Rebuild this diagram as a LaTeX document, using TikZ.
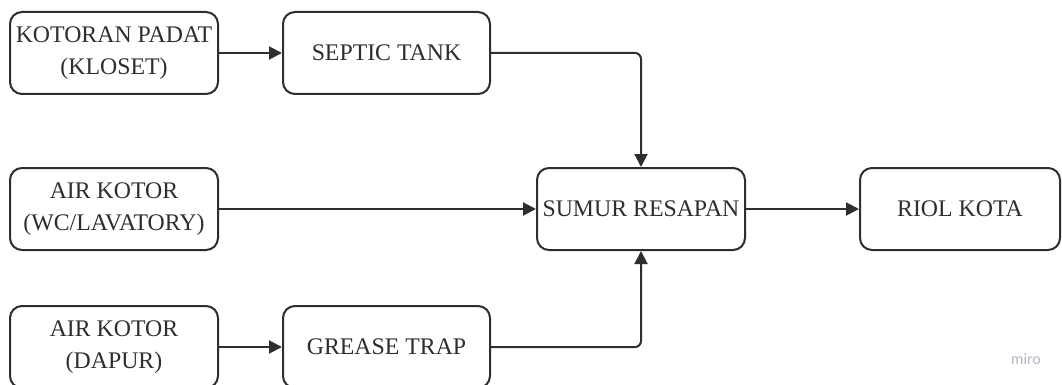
\documentclass[tikz,border=0pt]{standalone}
\usepackage{fontspec}
\setmainfont{Liberation Serif}
\newfontfamily\markfont{Lato}
\usetikzlibrary{arrows.meta}
\definecolor{ink}{HTML}{2E2E2E}
\definecolor{markgray}{HTML}{B4B4C4}
\tikzset{
  flowbox/.style={draw=ink, line width=2pt, rounded corners=12pt,
    minimum width=208pt, minimum height=82pt, inner sep=0pt,
    align=center, text=ink, font=\fontsize{23.8}{32}\selectfont},
  flow/.style={draw=ink, line width=2pt,
    -{Triangle[length=13pt,width=13pt]}, rounded corners=6pt}
}
\begin{document}
\begin{tikzpicture}[x=1pt,y=-1pt]
  \clip (0,0) rectangle (1062,385);
  \fill[white] (0,0) rectangle (1062,385);

  % sources
  \node[flowbox] (kloset) at (114,53) {KOTORAN PADAT\\(KLOSET)};
  \node[flowbox] (wc) at (114,209) {AIR KOTOR\\(WC/LAVATORY)};
  \node[flowbox] (dapur) at (114,347) {AIR KOTOR\\(DAPUR)};

  % treatment
  \node[flowbox, minimum width=207pt] (septic) at (386.5,53) {SEPTIC TANK};
  \node[flowbox, minimum width=207pt] (grease) at (386.5,347) {GREASE TRAP};

  % collection and discharge
  \node[flowbox] (sumur) at (641,209) {SUMUR RESAPAN};
  \node[flowbox, minimum width=200pt] (riol) at (960,209) {RIOL KOTA};

  % connectors
  \draw[flow] (kloset) -- (septic);
  \draw[flow] (dapur) -- (grease);
  \draw[flow] (wc) -- (sumur);
  \draw[flow] (sumur) -- (riol);
  \draw[flow] (septic.east) -| (sumur.north);
  \draw[flow] (grease.east) -| (sumur.south);

  % watermark
  \node[text=markgray, font=\markfont\fontsize{15}{17}\selectfont] (mark) at (1026,359) {miro};
\end{tikzpicture}
\end{document}
